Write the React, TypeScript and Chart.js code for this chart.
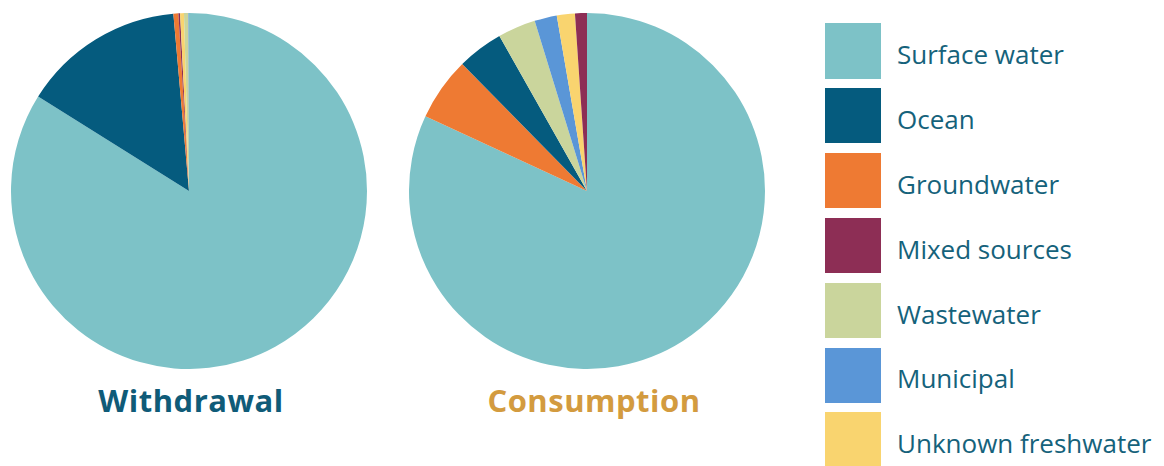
import React, { useEffect, useRef } from "react";
import { Chart, registerables } from "chart.js";

Chart.register(...registerables);

const categories = [
  "Surface water",
  "Ocean",
  "Groundwater",
  "Mixed sources",
  "Wastewater",
  "Municipal",
  "Unknown freshwater",
];
const colors = ["#7dc2c7", "#055b7e", "#ee7a33", "#8d2e55", "#cad59c", "#5a96d7", "#f9d46f"];

// percent shares, in legend order
const withdrawalValues = [83.9, 14.7, 0.45, 0.15, 0.4, 0.05, 0.35];
const consumptionValues = [81.9, 4.17, 5.75, 1.08, 3.44, 2.03, 1.64];

// clockwise drawing order (indices into categories), starting at 12 o'clock
const withdrawalOrder = [0, 1, 2, 3, 6, 4, 5];
const consumptionOrder = [0, 2, 1, 4, 5, 6, 3];

const titles = ["Withdrawal", "Consumption"];
const titleColors = ["#0f5b78", "#d39b3f"];

function Pie({ values, order, left }: { values: number[]; order: number[]; left: number }) {
  const ref = useRef<HTMLCanvasElement | null>(null);
  useEffect(() => {
    if (!ref.current) return;
    const chart = new Chart(ref.current, {
      type: "pie",
      data: {
        labels: order.map((i) => categories[i]),
        datasets: [
          {
            data: order.map((i) => values[i]),
            backgroundColor: order.map((i) => colors[i]),
            borderWidth: 0,
          },
        ],
      },
      options: {
        animation: false,
        responsive: false,
        layout: { padding: 0 },
        plugins: { legend: { display: false }, tooltip: { enabled: false }, title: { display: false } },
      },
    });
    return () => chart.destroy();
  }, []);
  return (
    <canvas
      ref={ref}
      width={356}
      height={356}
      style={{ position: "absolute", left, top: 13, width: 356, height: 356 }}
    />
  );
}

export default function App() {
  const font = "'Open Sans', sans-serif";
  const legendFs = 26;
  const titleFs = 31;
  return (
    <div
      style={{
        position: "absolute",
        left: 0,
        top: 0,
        width: 1164,
        height: 466,
        background: "#ffffff",
        overflow: "hidden",
        fontFamily: font,
      }}
    >
      <Pie values={withdrawalValues} order={withdrawalOrder} left={11} />
      <Pie values={consumptionValues} order={consumptionOrder} left={409} />
      {titles.map((t, i) => (
        <div
          key={t}
          style={{
            position: "absolute",
            left: i === 0 ? 191 - 150 : 594 - 150,
            width: 300,
            top: 413 - 0.888 * titleFs,
            textAlign: "center",
            fontSize: titleFs,
            lineHeight: `${titleFs}px`,
            fontWeight: 700,
            letterSpacing: "0.5px",
            color: titleColors[i],
            whiteSpace: "nowrap",
          }}
        >
          {t}
        </div>
      ))}
      {categories.map((c, i) => {
        const top = 23 + 64.9 * i;
        return (
          <React.Fragment key={c}>
            <div
              style={{
                position: "absolute",
                left: 825,
                top,
                width: 56,
                height: 55.5,
                background: colors[i],
              }}
            />
            <div
              style={{
                position: "absolute",
                left: 897,
                top: top + 41 - 0.888 * legendFs,
                fontSize: legendFs,
                lineHeight: `${legendFs}px`,
                color: "#15627b",
                whiteSpace: "nowrap",
              }}
            >
              {c}
            </div>
          </React.Fragment>
        );
      })}
    </div>
  );
}
